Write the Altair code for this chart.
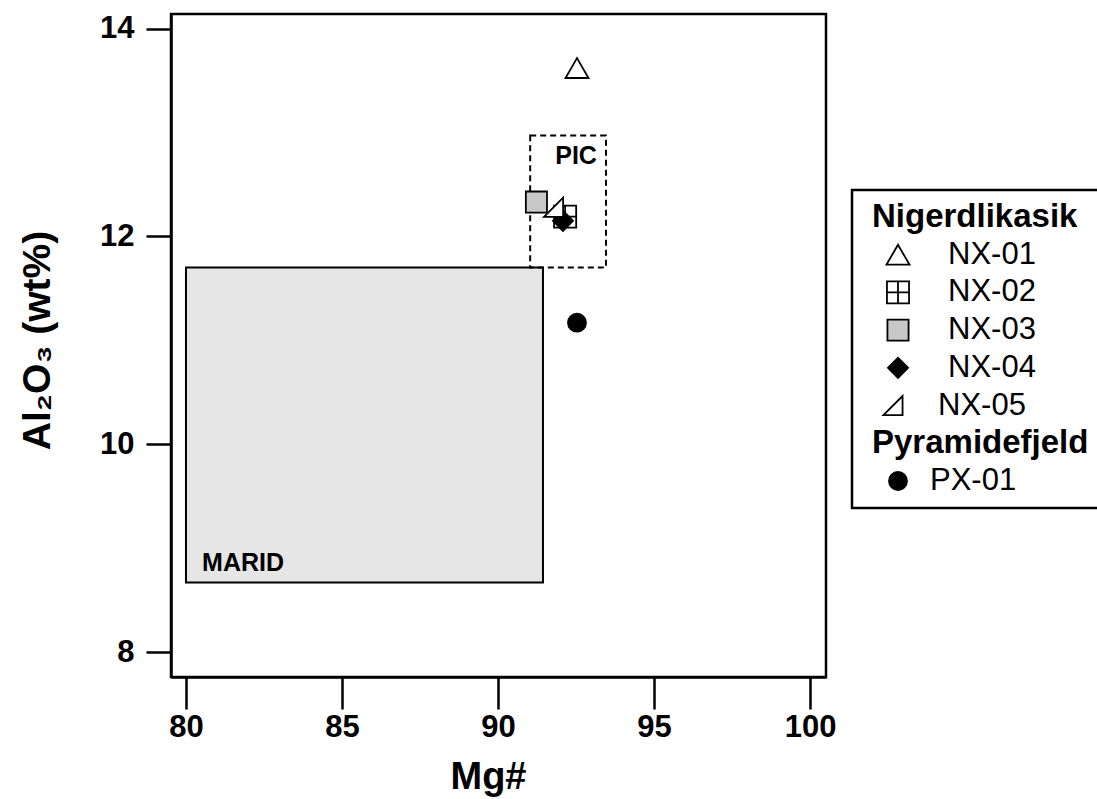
import altair as alt
import pandas as pd

FONT = "Liberation Sans"

# ---- data ----
samples = ["NX-01", "NX-02", "NX-03", "NX-04", "NX-05", "PX-01"]
mg_number = [92.53, 92.15, 91.23, 92.08, 91.78, 92.53]
al2o3 = [13.62, 12.19, 12.33, 12.15, 12.28, 11.17]
groups = ["Nigerdlikasik"] * 5 + ["Pyramidefjeld"]

shape_range = [
    "triangle-up",
    "M-1,-1H1V1H-1Z M0,-1V1 M-1,0H1",
    "square",
    "diamond",
    "M1,-1L1,1L-1,1Z",
    "circle",
]
fill_range = ["white", "white", "#c8c8c8", "black", "white", "black"]
size_range = [529, 324, 361, 576, 441, 400]

# composition fields
field_names = ["MARID", "PIC"]
field_mg_lo = [80.0, 91.03]
field_mg_hi = [91.44, 93.46]
field_al_lo = [8.67, 11.70]
field_al_hi = [11.70, 12.97]
label_mg = [81.83, 92.5]
label_al = [8.86, 12.77]

legend_rows = ["Nigerdlikasik", "NX-01", "NX-02", "NX-03", "NX-04", "NX-05",
               "Pyramidefjeld", "PX-01"]

x_ticks = [80, 85, 90, 95, 100]
y_ticks = [8, 10, 12, 14]

# ---- tables ----
pts = pd.DataFrame({"sample": samples, "mg": mg_number, "al": al2o3, "group": groups})
fields = pd.DataFrame({"name": field_names, "x0": field_mg_lo, "x1": field_mg_hi,
                       "y0": field_al_lo, "y1": field_al_hi,
                       "lx": label_mg, "ly": label_al})
leg = pd.DataFrame({"label": legend_rows, "row": list(range(len(legend_rows)))})
leg["is_header"] = leg["label"].isin(["Nigerdlikasik", "Pyramidefjeld"])

xs = alt.Scale(domain=[79.52, 100.51], nice=False, zero=False)
ys = alt.Scale(domain=[7.76, 14.14], nice=False, zero=False)
shape_s = alt.Scale(domain=samples, range=shape_range)
fill_s = alt.Scale(domain=samples, range=fill_range)
size_s = alt.Scale(domain=samples, range=size_range)

x_axis = alt.Axis(values=x_ticks, format="d", title="Mg#", grid=False, tickSize=32, tickWidth=2.5,
                  domainWidth=2.5, domainColor="black", tickColor="black",
                  labelFont=FONT, labelFontSize=31, labelFontWeight="bold", labelColor="black",
                  labelPadding=3, titleFont=FONT, titleFontSize=38, titleFontWeight="bold",
                  titleColor="black", titleX=317, titleY=111, titleBaseline="alphabetic")
y_axis = alt.Axis(values=y_ticks, format="d", title="Al₂O₃ (wt%)", grid=False, tickSize=25,
                  tickWidth=2.5, domainWidth=2.5, domainColor="black", tickColor="black",
                  labelFont=FONT, labelFontSize=31, labelFontWeight="bold", labelColor="black",
                  labelPadding=12, titleFont=FONT, titleFontSize=39, titleFontWeight="bold",
                  titleColor="black", titleX=-134, titleY=326, titleBaseline="middle",
                  titleAngle=270)

marid = alt.Chart(fields).transform_filter(alt.datum.name == "MARID").mark_rect(
    fill="#e6e6e6", stroke="black", strokeWidth=2
).encode(
    x=alt.X("x0:Q", scale=xs, axis=x_axis), x2="x1:Q",
    y=alt.Y("y0:Q", scale=ys, axis=y_axis), y2="y1:Q",
)
pic = alt.Chart(fields).transform_filter(alt.datum.name == "PIC").mark_rect(
    fill="transparent", stroke="black", strokeWidth=2, strokeDash=[6, 4]
).encode(x=alt.X("x0:Q", scale=xs), x2="x1:Q", y=alt.Y("y0:Q", scale=ys), y2="y1:Q")

field_labels = alt.Chart(fields).mark_text(
    font=FONT, fontSize=25, fontWeight="bold", color="black", align="center", baseline="middle"
).encode(x=alt.X("lx:Q", scale=xs), y=alt.Y("ly:Q", scale=ys), text="name:N")

points = alt.Chart(pts).mark_point(filled=False, stroke="black", strokeWidth=1.8, opacity=1).encode(
    x=alt.X("mg:Q", scale=xs),
    y=alt.Y("al:Q", scale=ys),
    shape=alt.Shape("sample:N", scale=shape_s, legend=None),
    fill=alt.Fill("sample:N", scale=fill_s, legend=None),
    size=alt.Size("sample:N", scale=size_s, legend=None),
)

main = alt.layer(marid, pic, field_labels, points)

# ---- legend panel ----
leg_y = alt.Scale(domain=[0, len(legend_rows) - 1], range=[203, 467])

leg_box = alt.Chart(leg).transform_filter(alt.datum.row == 0).mark_rect(
    fill="transparent", stroke="black", strokeWidth=2.5
).encode(x=alt.value(681), x2=alt.value(945), y=alt.value(176), y2=alt.value(494))


def leg_symbols(filt, xpix):
    return alt.Chart(leg).transform_filter(filt).mark_point(
        filled=False, stroke="black", strokeWidth=1.8, opacity=1
    ).encode(
        x=alt.value(xpix),
        y=alt.Y("row:Q", scale=leg_y, axis=None),
        shape=alt.Shape("label:N", scale=shape_s, legend=None),
        fill=alt.Fill("label:N", scale=fill_s, legend=None),
        size=alt.Size("label:N", scale=size_s, legend=None),
    )


def leg_labels(filt, xpix):
    return alt.Chart(leg).transform_filter(filt).mark_text(
        font=FONT, fontSize=31, color="black", align="left", baseline="middle"
    ).encode(x=alt.value(xpix), y=alt.Y("row:Q", scale=leg_y, axis=None), text="label:N")


sym_a = leg_symbols("!datum.is_header && datum.label != 'NX-05'", 727)
sym_b = leg_symbols("datum.label == 'NX-05'", 722)
lab_a = leg_labels("!datum.is_header && datum.row < 5", 777)
lab_b = leg_labels("datum.label == 'NX-05'", 767)
lab_c = leg_labels("datum.label == 'PX-01'", 759)
leg_head = alt.Chart(leg).transform_filter("datum.is_header").mark_text(
    font=FONT, fontSize=33, fontWeight="bold", color="black", align="left", baseline="middle"
).encode(x=alt.value(701), y=alt.Y("row:Q", scale=leg_y, axis=None), text="label:N")

legend = alt.layer(leg_box, sym_a, sym_b, lab_a, lab_b, lab_c, leg_head)

chart = alt.layer(main, legend).resolve_scale(y="independent").properties(
    width=655, height=663,
    autosize=alt.AutoSizeParams(type="none"),
    padding={"left": 171, "top": 14, "right": 271, "bottom": 122},
    background="white",
).configure_view(stroke="black", strokeWidth=2.5)

chart.save("out.html", embed_options={"renderer": "svg", "actions": False})
